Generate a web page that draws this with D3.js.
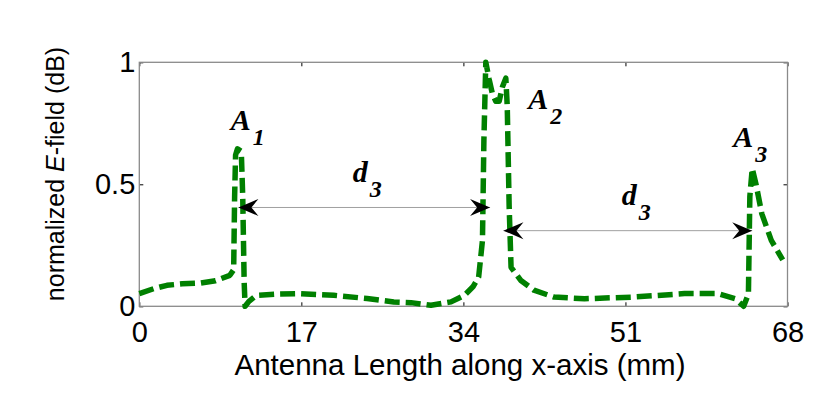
<!DOCTYPE html>
<html>
<head>
<meta charset="utf-8">
<script src="https://cdn.jsdelivr.net/npm/d3@7"></script>
<style>
  body { margin: 0; background: #fff; }
  svg { display: block; }
</style>
</head>
<body>
<div id="chart"></div>
<script>
// values
var xValues = [0, 1.5, 2.9, 4.5, 6.4, 8.0, 9.5, 9.9, 10.0, 10.1, 10.3, 10.7, 10.85, 11.0, 11.1, 11.5, 12.3, 14.5, 16.9,
  20.4, 23.9, 26.7, 28.5, 30.6, 32.7, 34.1, 35.0, 35.6, 36.0, 36.15, 36.35, 36.7, 37.05, 37.4, 37.75, 38.1, 38.45,
  38.6, 38.8, 39.0, 40.0, 41.4, 43.5, 46.7, 51.9, 57.2, 60.7, 62.5, 63.4, 63.9, 64.05, 64.3, 64.7, 65.3, 66.3, 67.5];
var fieldValues = [0.052, 0.072, 0.086, 0.092, 0.095, 0.105, 0.127, 0.15, 0.45, 0.62, 0.645, 0.635, 0.45, 0.1, 0.0, 0.02, 0.045, 0.05, 0.052,
  0.045, 0.032, 0.018, 0.015, 0.004, 0.018, 0.045, 0.08, 0.12, 0.27, 0.68, 1.0, 0.93, 0.87, 0.84, 0.84, 0.9, 0.935,
  0.82, 0.41, 0.16, 0.107, 0.066, 0.038, 0.031, 0.038, 0.052, 0.052, 0.031, 0.0, 0.05, 0.45, 0.565, 0.50, 0.38, 0.27, 0.19];

var xTicks = [0, 17, 34, 51, 68];
var yTicks = [0, 0.5, 1];

// peak labels: letter, subscript, anchor (x, y)
var peakLabels = [
  { main: "A", sub: "1", x: 9.6, y: 0.721 },
  { main: "A", sub: "2", x: 40.8, y: 0.81 },
  { main: "A", sub: "3", x: 62.3, y: 0.652 }
];
// distance arrows (double headed)
var arrows = [
  { x0: 10.4, x1: 36.8, y: 0.405 },
  { x0: 38.2, x1: 64.3, y: 0.31 }
];
var distLabels = [
  { main: "d", sub: "3", x: 22.4, y: 0.509 },
  { main: "d", sub: "3", x: 50.6, y: 0.414 }
];

var width = 831, height = 408;
var plotLeft = 139.3, plotRight = 787.5, plotTop = 62.3, plotBottom = 306.3;

var svg = d3.select("#chart").append("svg")
  .attr("width", width)
  .attr("height", height);

var x = d3.scaleLinear().domain([0, 68]).range([plotLeft, plotRight]);
var y = d3.scaleLinear().domain([0, 1]).range([plotBottom, plotTop]);

var font = "'Liberation Sans', Arial, sans-serif";
var serif = "'Liberation Serif', 'Times New Roman', serif";

// axes (ticks point inward)
svg.append("g")
  .attr("transform", "translate(0," + plotBottom + ")")
  .call(d3.axisBottom(x).tickValues(xTicks).tickFormat(d3.format("d")).tickSize(-4).tickPadding(15));
svg.append("g")
  .attr("transform", "translate(0," + plotTop + ")")
  .call(d3.axisTop(x).tickValues(xTicks).tickFormat("").tickSize(-4));
svg.append("g")
  .attr("transform", "translate(" + plotLeft + ",0)")
  .call(d3.axisLeft(y).tickValues(yTicks).tickFormat(d => d).tickSize(-4).tickPadding(4));
svg.append("g")
  .attr("transform", "translate(" + plotRight + ",0)")
  .call(d3.axisRight(y).tickValues(yTicks).tickFormat("").tickSize(-4));

svg.selectAll(".domain").remove();
svg.selectAll(".tick line").attr("stroke", "#000").attr("stroke-width", 1);
svg.selectAll(".tick text")
  .style("font-family", font)
  .style("font-size", "29px")
  .attr("fill", "#000");

// grey box
svg.append("rect")
  .attr("x", plotLeft).attr("y", plotTop)
  .attr("width", plotRight - plotLeft).attr("height", plotBottom - plotTop)
  .attr("fill", "none")
  .attr("stroke", "#8a8a8a")
  .attr("stroke-width", 1.3);

// curve
var line = d3.line()
  .x(d => x(d[0]))
  .y(d => y(d[1]));

svg.append("path")
  .datum(d3.zip(xValues, fieldValues))
  .attr("d", line)
  .attr("fill", "none")
  .attr("stroke", "#008000")
  .attr("stroke-width", 5.5)
  .attr("stroke-dasharray", "15,6")
  .attr("stroke-linejoin", "round");

// arrows
function arrowHead(tx, ty, dir) {
  // dir = -1 points left, +1 points right
  var L = 20, W = 8.5, back = 7;
  return "M" + tx + "," + ty +
    "L" + (tx - dir * L) + "," + (ty - W) +
    "L" + (tx - dir * (L - back)) + "," + ty +
    "L" + (tx - dir * L) + "," + (ty + W) + "Z";
}

var ag = svg.append("g");
arrows.forEach(function (a) {
  ag.append("line")
    .attr("x1", x(a.x0)).attr("x2", x(a.x1))
    .attr("y1", y(a.y)).attr("y2", y(a.y))
    .attr("stroke", "#a0a0a0")
    .attr("stroke-width", 1);
  ag.append("path").attr("d", arrowHead(x(a.x0), y(a.y), -1)).attr("fill", "#000");
  ag.append("path").attr("d", arrowHead(x(a.x1), y(a.y), 1)).attr("fill", "#000");
});

// annotation labels
function subLabel(d) {
  var t = svg.append("text")
    .attr("x", x(d.x))
    .attr("y", y(d.y))
    .style("font-family", serif)
    .style("font-weight", "bold")
    .style("font-style", "italic")
    .style("font-size", "30px")
    .attr("fill", "#000");
  t.append("tspan").text(d.main);
  t.append("tspan")
    .attr("dx", 2)
    .attr("dy", 15)
    .style("font-size", "24px")
    .text(d.sub);
}
peakLabels.forEach(subLabel);
distLabels.forEach(subLabel);

// axis labels
svg.append("text")
  .attr("x", 460)
  .attr("y", 375)
  .attr("text-anchor", "middle")
  .style("font-family", font)
  .style("font-size", "29.5px")
  .attr("fill", "#000")
  .text("Antenna Length along x-axis (mm)");

var yl = svg.append("text")
  .attr("transform", "translate(64,174) rotate(-90)")
  .attr("text-anchor", "middle")
  .style("font-family", font)
  .style("font-size", "25px")
  .attr("fill", "#000");
yl.append("tspan").text("normalized ");
yl.append("tspan").style("font-style", "italic").text("E");
yl.append("tspan").text("-field (dB)");
</script>
</body>
</html>
